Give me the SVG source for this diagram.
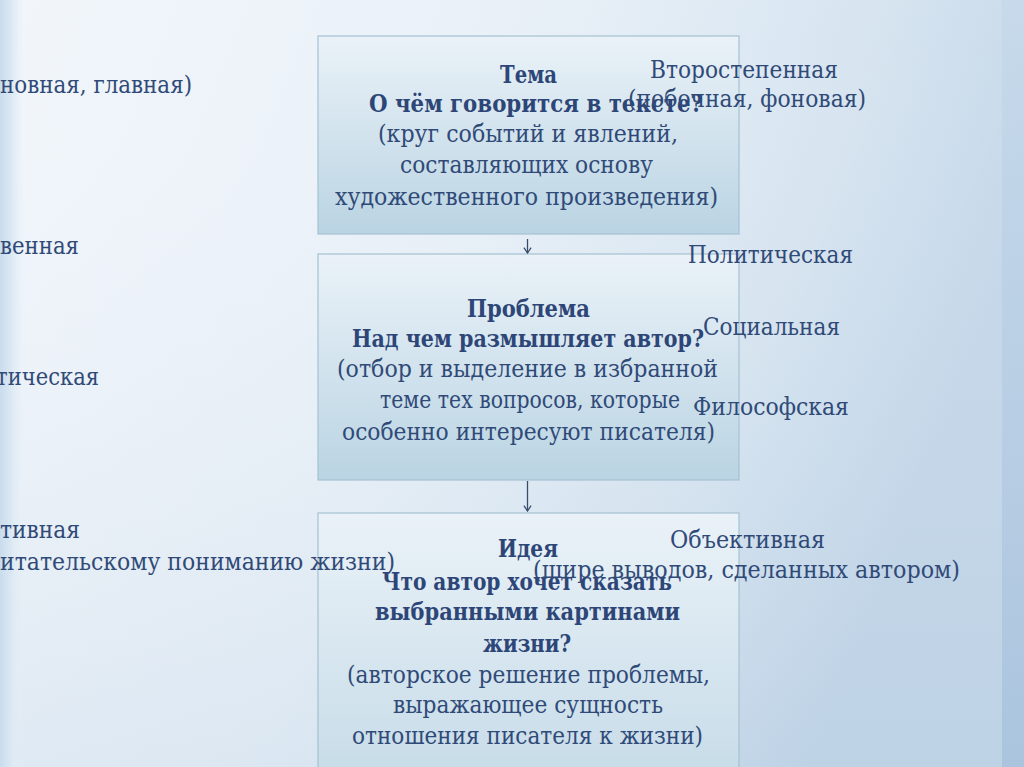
<svg xmlns="http://www.w3.org/2000/svg" width="1024" height="767" viewBox="0 0 1024 767">
<defs>
<linearGradient id="bg" x1="0" y1="0" x2="1" y2="0.3">
<stop offset="0" stop-color="#f2f6fb"/>
<stop offset="0.5" stop-color="#e8f0f7"/>
<stop offset="0.8" stop-color="#d6e4f0"/>
<stop offset="1" stop-color="#c3d6e8"/>
</linearGradient>
<linearGradient id="bgv" x1="0" y1="0" x2="0" y2="1">
<stop offset="0" stop-color="#ffffff" stop-opacity="0"/>
<stop offset="1" stop-color="#a9c3dc" stop-opacity="0.2"/>
</linearGradient>
<linearGradient id="lstripe" x1="0" y1="0" x2="1" y2="0">
<stop offset="0" stop-color="#c9dced"/>
<stop offset="0.5" stop-color="#dde9f3"/>
<stop offset="1" stop-color="#e6eff7" stop-opacity="0"/>
</linearGradient>
<linearGradient id="rstripe" x1="0" y1="0" x2="0" y2="1">
<stop offset="0" stop-color="#c6d9eb"/>
<stop offset="1" stop-color="#a6c1dc"/>
</linearGradient>
<linearGradient id="box" x1="0" y1="0" x2="0" y2="1">
<stop offset="0" stop-color="#eaf2f8"/>
<stop offset="1" stop-color="#bad4e3"/>
</linearGradient>
<linearGradient id="box3" x1="0" y1="0" x2="0" y2="1">
<stop offset="0" stop-color="#eaf2f8"/>
<stop offset="1" stop-color="#c7dce8"/>
</linearGradient>
<marker id="vh" viewBox="0 0 10 10" refX="9" refY="5" markerWidth="9" markerHeight="9" markerUnits="userSpaceOnUse" orient="auto">
<path d="M3 1 L9 5 L3 9" fill="none" stroke="#3a4c6c" stroke-width="1.4"/>
</marker>
<style>
.t{font-family:"DejaVu Serif","Liberation Serif",serif;font-size:24px;fill:#304a78}
.b{font-weight:bold;fill:#2d4677}
.bx{stroke:#a5c1d3;stroke-width:1.2}
.cn{stroke:#3a4c6c;stroke-width:1.3;fill:none}
</style>
</defs>
<rect x="0" y="0" width="1024" height="767" fill="url(#bg)"/>
<rect x="0" y="0" width="1024" height="767" fill="url(#bgv)"/>
<rect x="0" y="0" width="24" height="767" fill="url(#lstripe)"/>
<rect x="1002" y="0" width="22" height="767" fill="url(#rstripe)" opacity="0.8"/>

<g id="node-tema">
<rect class="bx" x="318" y="36" width="421" height="198" fill="url(#box)"/>
<text class="t b" x="500" y="83" textLength="57" lengthAdjust="spacingAndGlyphs">Тема</text>
<text class="t b" x="369" y="112" textLength="334" lengthAdjust="spacingAndGlyphs">О чём говорится в тексте?</text>
<text class="t" x="378" y="142" textLength="300" lengthAdjust="spacingAndGlyphs">(круг событий и явлений,</text>
<text class="t" x="400" y="173" textLength="253" lengthAdjust="spacingAndGlyphs">составляющих основу</text>
<text class="t" x="335" y="205" textLength="383" lengthAdjust="spacingAndGlyphs">художественного произведения)</text>
</g>

<g id="node-problema">
<rect class="bx" x="318" y="254" width="421" height="226" fill="url(#box)"/>
<text class="t b" x="467" y="317" textLength="123" lengthAdjust="spacingAndGlyphs">Проблема</text>
<text class="t b" x="352" y="347" textLength="352" lengthAdjust="spacingAndGlyphs">Над чем размышляет автор?</text>
<text class="t" x="337" y="377" textLength="381" lengthAdjust="spacingAndGlyphs">(отбор и выделение в избранной</text>
<text class="t" x="380" y="408" textLength="300" lengthAdjust="spacingAndGlyphs">теме тех вопросов, которые</text>
<text class="t" x="342" y="440" textLength="373" lengthAdjust="spacingAndGlyphs">особенно интересуют писателя)</text>
</g>

<g id="node-ideya">
<rect class="bx" x="318" y="513" width="421" height="262" fill="url(#box3)"/>
<text class="t b" x="498" y="557" textLength="60" lengthAdjust="spacingAndGlyphs">Идея</text>
<text class="t b" x="382" y="590" textLength="290" lengthAdjust="spacingAndGlyphs">Что автор хочет сказать</text>
<text class="t b" x="375" y="620" textLength="305" lengthAdjust="spacingAndGlyphs">выбранными картинами</text>
<text class="t b" x="483" y="652" textLength="88" lengthAdjust="spacingAndGlyphs">жизни?</text>
<text class="t" x="347" y="683" textLength="363" lengthAdjust="spacingAndGlyphs">(авторское решение проблемы,</text>
<text class="t" x="393" y="713" textLength="270" lengthAdjust="spacingAndGlyphs">выражающее сущность</text>
<text class="t" x="352" y="744" textLength="351" lengthAdjust="spacingAndGlyphs">отношения писателя к жизни)</text>
</g>

<g id="left-labels">
<text class="t" x="0" y="93" textLength="192" lengthAdjust="spacingAndGlyphs">новная, главная)</text>
<text class="t" x="0" y="254" textLength="79" lengthAdjust="spacingAndGlyphs">венная</text>
<text class="t" x="-4" y="385" textLength="103" lengthAdjust="spacingAndGlyphs">тическая</text>
<text class="t" x="0" y="538" textLength="80" lengthAdjust="spacingAndGlyphs">тивная</text>
<text class="t" x="0" y="570" textLength="395" lengthAdjust="spacingAndGlyphs">итательскому пониманию жизни)</text>
</g>

<g id="right-labels">
<text class="t" x="650" y="78" textLength="188" lengthAdjust="spacingAndGlyphs">Второстепенная</text>
<text class="t" x="628" y="107" textLength="238" lengthAdjust="spacingAndGlyphs">(побочная, фоновая)</text>
<text class="t" x="688" y="263" textLength="165" lengthAdjust="spacingAndGlyphs">Политическая</text>
<text class="t" x="703" y="335" textLength="137" lengthAdjust="spacingAndGlyphs">Социальная</text>
<text class="t" x="693" y="415" textLength="156" lengthAdjust="spacingAndGlyphs">Философская</text>
<text class="t" x="670" y="548" textLength="155" lengthAdjust="spacingAndGlyphs">Объективная</text>
<text class="t" x="533" y="578" textLength="427" lengthAdjust="spacingAndGlyphs">(шире выводов, сделанных автором)</text>
</g>

<g id="connectors">
<line class="cn" x1="527.5" y1="239" x2="527.5" y2="253" marker-end="url(#vh)"/>
<line class="cn" x1="527.5" y1="481" x2="527.5" y2="511" marker-end="url(#vh)"/>
</g>
</svg>
